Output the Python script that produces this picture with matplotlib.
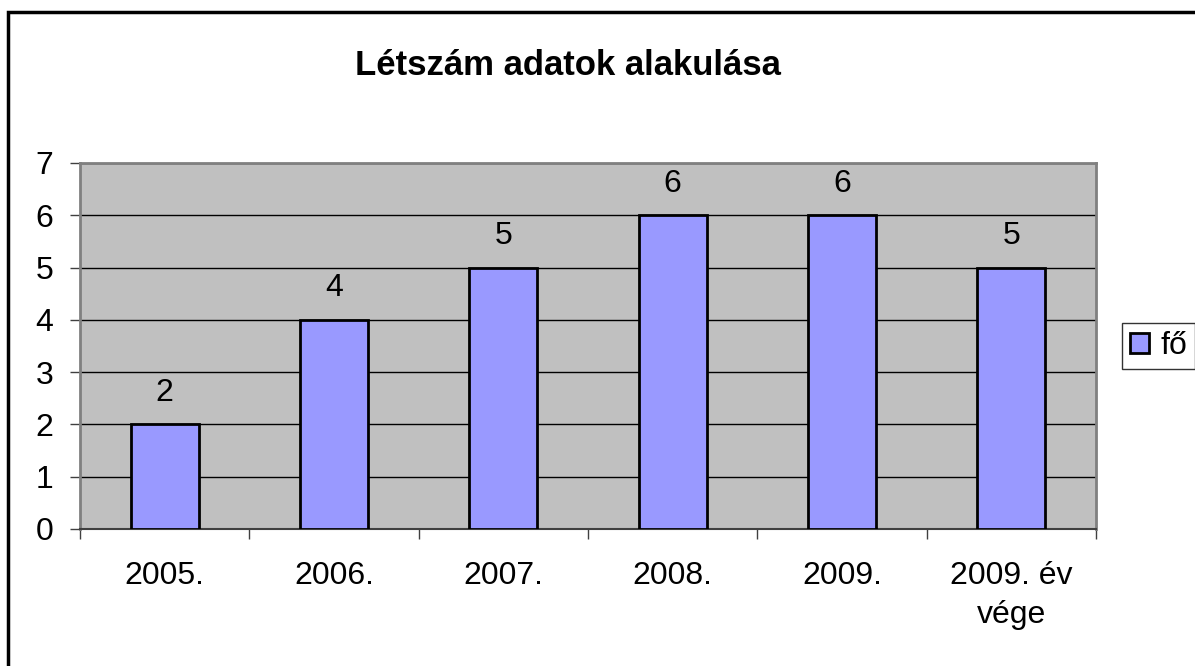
import matplotlib.pyplot as plt
import numpy as np
from matplotlib.patches import Rectangle

categories = ['2005.', '2006.', '2007.', '2008.', '2009.', '2009. év\nvége']
values = [2, 4, 5, 6, 6, 5]
series_name = 'fő'
title = 'Létszám adatok alakulása'

plt.rcParams['font.family'] = ['Liberation Sans', 'DejaVu Sans']

W, H = 1195, 666
fig = plt.figure(figsize=(W / 100, H / 100), dpi=100)

# frame around the whole chart (right and bottom sides are cut off)
fig.patches.append(Rectangle((8 / W, -0.05), 1.1, (H - 12) / H + 0.05,
                             transform=fig.transFigure, fill=False,
                             edgecolor='black', linewidth=2.5))

ax = fig.add_axes([80 / W, (H - 529) / H, 1016 / W, 366 / H])
ax.set_facecolor('#C0C0C0')

x = np.arange(len(categories))
bars = ax.bar(x, values, width=0.4, color='#9999FF', edgecolor='black',
              linewidth=2, label=series_name, zorder=3)
ax.bar_label(bars, fontsize=23, padding=12)

ax.set_xlim(-0.5, len(categories) - 0.5)
ax.set_ylim(0, 7)
ax.set_yticks(range(0, 8))
ax.yaxis.grid(True, color='black', linewidth=1, zorder=0)

ax.set_xticks(x)
ax.set_xticklabels(categories, fontsize=23, linespacing=1.4)
ax.set_xticks(np.arange(-0.5, len(categories)), minor=True)
ax.tick_params(axis='x', which='major', length=0, pad=23)
ax.tick_params(axis='x', which='minor', length=7, width=1, color='#404040')
ax.tick_params(axis='y', labelsize=23, length=7, width=1, color='#404040', pad=12)

for side in ['left', 'right', 'top']:
    ax.spines[side].set_color('#808080')
    ax.spines[side].set_linewidth(2)
ax.spines['bottom'].set_color('#404040')
ax.spines['bottom'].set_linewidth(1.5)

fig.text(568 / W, (H - 75) / H, title, fontsize=25, fontweight='bold',
         ha='center', va='baseline')

leg = ax.legend(loc='center left', bbox_to_anchor=(1122 / W, (H - 346) / H),
                bbox_transform=fig.transFigure, fontsize=23, frameon=True,
                fancybox=False, edgecolor='black', handlelength=0.6,
                handleheight=0.6, handletextpad=0.35, borderpad=0.25,
                borderaxespad=0)
leg.get_frame().set_linewidth(1)

fig.savefig('out.png', dpi=100)
